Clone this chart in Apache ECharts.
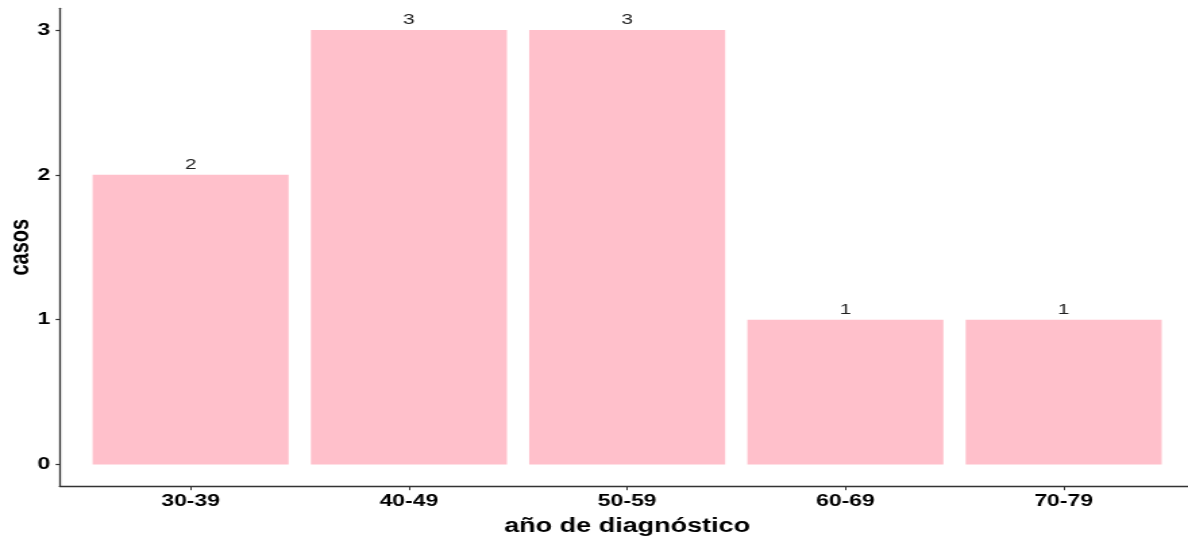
<!DOCTYPE html>
<html><head><meta charset="utf-8">
<script src="https://cdn.jsdelivr.net/npm/echarts@6/dist/echarts.min.js"></script>
<style>
html,body{margin:0;padding:0;background:#fff;overflow:hidden;width:1188px;height:538px}
#c{width:890px;height:538px;transform:scaleX(1.35);transform-origin:0 0}
</style>
</head><body><div id="c"></div>
<script>
const categories = ['30-39','40-49','50-59','60-69','70-79'];
const casos = [2,3,3,1,1];
const yTicks = [0,1,2,3];

const positions = categories.map((c,i)=>i+1);
const chart = echarts.init(document.getElementById('c'));
const font = '"Liberation Sans", Arial, sans-serif';
chart.setOption({
  animation:false,
  grid:{left:44.2, right:5.1, top:8.3, bottom:51.8, containLabel:false, outerBoundsMode:'none'},
  xAxis:{
    type:'value', min:0.4, max:5.6,
    name:'año de diagnóstico', nameLocation:'middle', nameGap:30, nameMoveOverlap:false,
    nameTextStyle:{fontFamily:font, fontWeight:'bold', fontSize:20, color:'#000', verticalAlign:'top'},
    axisLine:{show:true, onZero:false, lineStyle:{color:'#333', width:1.4}},
    axisTick:{show:true, length:4, customValues:positions, lineStyle:{color:'#333', width:1}},
    axisLabel:{customValues:positions, margin:7, fontFamily:font, fontWeight:'bold', fontSize:17, color:'#000',
      formatter:v=>categories[Math.round(v)-1]},
    splitLine:{show:false}
  },
  yAxis:{
    type:'value', min:-0.15, max:3.15,
    name:'casos', nameLocation:'middle', nameGap:19, nameMoveOverlap:false,
    nameTextStyle:{fontFamily:font, fontWeight:'bold', fontSize:20, color:'#000'},
    axisLine:{show:true, onZero:false, lineStyle:{color:'#333', width:1.3}},
    axisTick:{show:true, length:3, customValues:yTicks, lineStyle:{color:'#333', width:1.2}},
    axisLabel:{customValues:yTicks, margin:7, fontFamily:font, fontWeight:'bold', fontSize:17, color:'#000'},
    splitLine:{show:false}
  },
  series:[{
    type:'bar',
    data:positions.map((p,i)=>[p,casos[i]]),
    barWidth:145.2,
    itemStyle:{color:'#FFC0CB'},
    label:{show:true, position:'top', distance:2, fontFamily:font, fontSize:15.5, color:'#222'}
  }]
});
</script></body></html>
